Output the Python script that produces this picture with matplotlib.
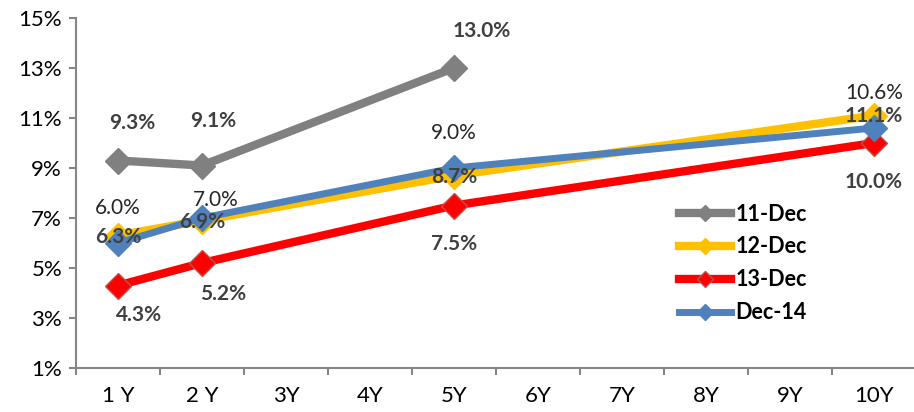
import matplotlib.pyplot as plt
import numpy as np

plt.rcParams['font.family'] = ['Lato', 'DejaVu Sans']

# data
cats = ['1 Y', '2 Y', '3Y', '4Y', '5Y', '6Y', '7Y', '8Y', '9Y', '10Y']
x_pts = ['1 Y', '2 Y', '5Y', '10Y']
dec11 = [9.3, 9.1, 13.0]
dec12 = [6.3, 6.9, 8.7, 11.1]
dec13 = [4.3, 5.2, 7.5, 10.0]
dec14 = [6.0, 7.0, 9.0, 10.6]
names = ['11-Dec', '12-Dec', '13-Dec', 'Dec-14']

# styles
colors = ['#808080', '#FFC000', '#FF0000', '#4F81BD']
edges = ['#808080', '#FFC000', '#C0504D', '#4F81BD']
lws = [6, 6, 6, 5]
# label offsets (points) for each series
offs = [
    [(10, 27), (8, 32), (20, 27)],
    [(0, -1), (0, -1), (0, -1), (0, 0)],
    [(15, -21), (15, -22), (0, -28), (0, -28)],
    [(0, 25), (10, 13), (0, 25), (0, 25)],
]
weights = ['bold', 'bold', 'bold', 'normal']
lcolors = ['#404040', '#404040', '#404040', '#262626']

fig = plt.figure(figsize=(9.14, 4.12), dpi=100)
ax = fig.add_axes([76/914, 44/412, 840/914, 350/412])

idx = [cats.index(c) for c in x_pts]
series = [dec11, dec12, dec13, dec14]
for i, ys in enumerate(series):
    xs = idx[:len(ys)]
    ax.plot(xs, ys, color=colors[i], lw=lws[i], marker='D', ms=13.5,
            mfc=colors[i], mec=edges[i], mew=1, label=names[i], zorder=3+i)
    for j, (xv, yv) in enumerate(zip(xs, ys)):
        dx, dy = offs[i][j]
        ax.annotate('%.1f%%' % yv, (xv, yv), xytext=(dx, dy), textcoords='offset points',
                    ha='center', va='center', fontsize=15, fontweight=weights[i],
                    color=lcolors[i], zorder=10)

ax.set_xlim(-0.5, 9.5)
ax.set_ylim(1, 15)
ax.set_yticks(np.arange(1, 16, 2))
ax.set_yticklabels(['%d%%' % v for v in range(1, 16, 2)])
ax.set_xticks(range(10))
ax.set_xticklabels(cats)
ax.set_xticks(np.arange(-0.5, 10, 1), minor=True)
ax.tick_params(axis='x', which='major', length=0, pad=13, labelsize=16)
ax.tick_params(axis='x', which='minor', length=5, color='#868686', width=1.5)
ax.tick_params(axis='y', length=5, color='#868686', width=1.5, labelsize=16, pad=5)
for s in ['top', 'right']:
    ax.spines[s].set_visible(False)
for s in ['left', 'bottom']:
    ax.spines[s].set_color('#868686')
    ax.spines[s].set_linewidth(1.5)

leg = ax.legend(loc='upper left', bbox_to_anchor=(0.695, 0.525), frameon=False,
                prop={'weight': 'bold', 'size': 15.5}, handlelength=2.4,
                labelspacing=0.55, handletextpad=0.2, markerscale=0.6)

fig.savefig('out.png', dpi=100)
